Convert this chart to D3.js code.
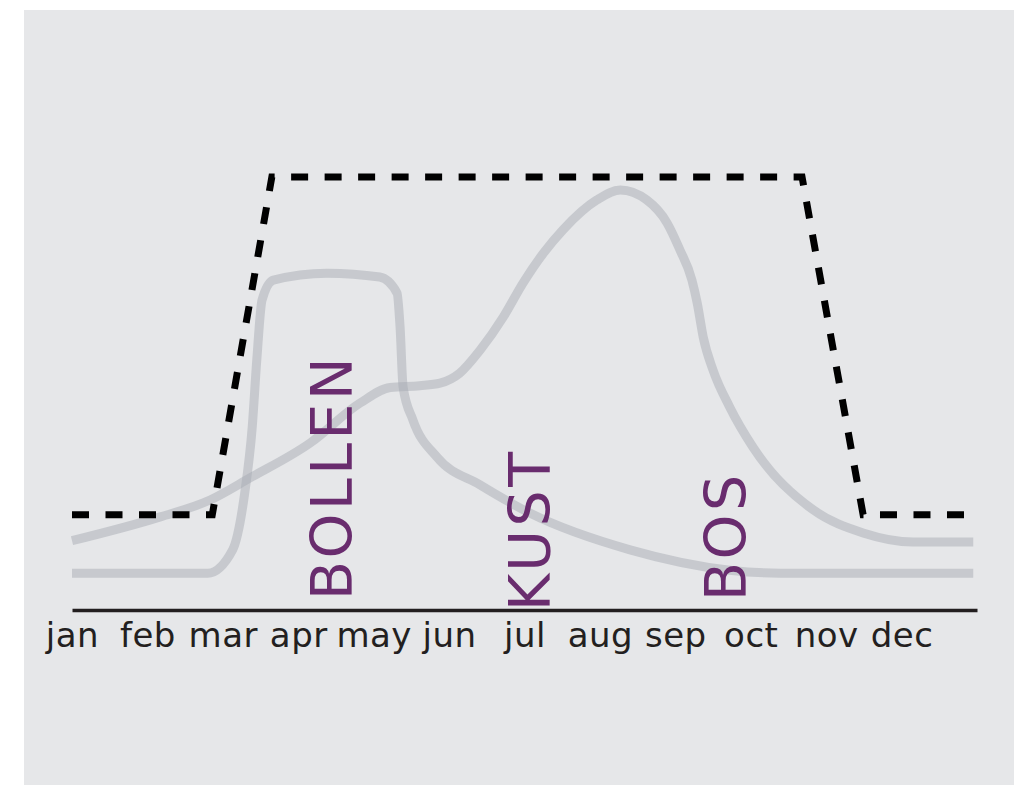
<!DOCTYPE html>
<html>
<head>
<meta charset="utf-8">
<script src="https://cdn.jsdelivr.net/npm/d3@7"></script>
<style>
  body { margin: 0; background: #ffffff; }
  svg { display: block; }
</style>
</head>
<body>
<svg id="chart" width="1014" height="785"></svg>
<script>
// size of the picture
const w = 1014;
const h = 785;

// month labels on the x axis
const months = ["jan", "feb", "mar", "apr", "may", "jun", "jul", "aug", "sep", "oct", "nov", "dec"];

// season line (dashed), x in months from the start of jan, y on a 0-100 scale
const seasonMonth = [0, 1.86, 2.65, 9.68, 10.49, 12];
const seasonValue = [22, 22, 100, 100, 22, 22];

// bulb fields curve (BOLLEN)
const bollenMonth = [0, 1.80, 2.13, 2.29, 2.39, 2.45, 2.52, 2.67, 3.38, 4.08, 4.31, 4.35, 4.39, 4.52, 4.84, 5.41, 6.07, 7.40, 8.72, 9.39, 11.95];
const bollenValue = [8.5, 8.5, 13.9, 27, 42.3, 57.7, 71.6, 76.2, 77.8, 76.9, 73.2, 65.4, 51.5, 43.9, 35.3, 28.9, 22.4, 13.9, 9.2, 8.5, 8.5];

// coast curve (KUST)
const kustMonth = [0, 1.17, 1.83, 2.36, 3.16, 3.82, 4.22, 4.61, 4.88, 5.14, 5.41, 5.72, 5.98, 6.25, 6.51, 6.96, 7.27, 7.62, 7.89, 8.06, 8.22, 8.29, 8.37, 8.50, 8.72, 9.03, 9.83, 10.49, 11.15, 11.95];
const kustValue = [16, 21.5, 25.4, 30.5, 38.6, 47.8, 51.4, 51.8, 52.4, 54.7, 60, 67.7, 75.5, 82.4, 87.8, 94.7, 97, 94.7, 89.4, 83.2, 76.2, 70.9, 63, 55.4, 46.9, 37.6, 23.1, 17.8, 15.7, 15.7];

// vertical labels and the month where their baseline sits
const labelNames = ["BOLLEN", "KUST", "BOS"];
const labelMonth = [3.71, 6.34, 8.94];

const svg = d3.select("#chart");

// light gray panel behind everything
svg.append("rect")
  .attr("x", 24).attr("y", 10)
  .attr("width", w - 24).attr("height", h - 10)
  .attr("fill", "#e6e7e9");

// scales
const x = d3.scaleLinear().domain([0, 12]).range([72, 977]);
const y = d3.scaleLinear().domain([0, 100]).range([610, 177]);

const toPoints = (ms, vs) => ms.map((m, i) => [m, vs[i]]);

const smooth = d3.line()
  .x(d => x(d[0]))
  .y(d => y(d[1]))
  .curve(d3.curveMonotoneX);

// the two gray curves, half transparent so the crossings look darker
[toPoints(bollenMonth, bollenValue), toPoints(kustMonth, kustValue)].forEach(pts => {
  svg.append("path")
    .datum(pts)
    .attr("d", smooth)
    .attr("fill", "none")
    .attr("stroke", "#a7abb3")
    .attr("stroke-opacity", 0.5)
    .attr("stroke-width", 9);
});

// the dashed season line, straight segments
const straight = d3.line()
  .x(d => x(d[0]))
  .y(d => y(d[1]));

svg.append("path")
  .datum(toPoints(seasonMonth, seasonValue))
  .attr("d", straight)
  .attr("fill", "none")
  .attr("stroke", "#000000")
  .attr("stroke-width", 7)
  .attr("stroke-dasharray", "17,16.5")
  .attr("stroke-linejoin", "miter");

// vertical purple labels, reading bottom to top
const labelBottom = [600, 611, 601];
labelNames.forEach((name, i) => {
  svg.append("text")
    .attr("transform", `translate(${x(labelMonth[i])},${labelBottom[i]}) rotate(-90)`)
    .attr("font-family", "DejaVu Sans, sans-serif")
    .attr("font-size", 57)
    .attr("letter-spacing", 3.5)
    .attr("fill", "#692c6e")
    .text(name);
});

// x axis with month names at the start of each month
const axis = svg.append("g")
  .attr("transform", `translate(0,${y(0)})`)
  .call(d3.axisBottom(x)
    .tickValues(d3.range(12))
    .tickFormat(i => months[i])
    .tickSize(0)
    .tickSizeOuter(0));

axis.select(".domain")
  .attr("stroke", "#231f20")
  .attr("stroke-width", 3.5);

axis.selectAll(".tick text")
  .attr("y", 37)
  .attr("dy", 0)
  .attr("fill", "#231f20")
  .attr("font-family", "DejaVu Sans, sans-serif")
  .attr("font-size", 34)
  .attr("letter-spacing", 0.5);
</script>
</body>
</html>
